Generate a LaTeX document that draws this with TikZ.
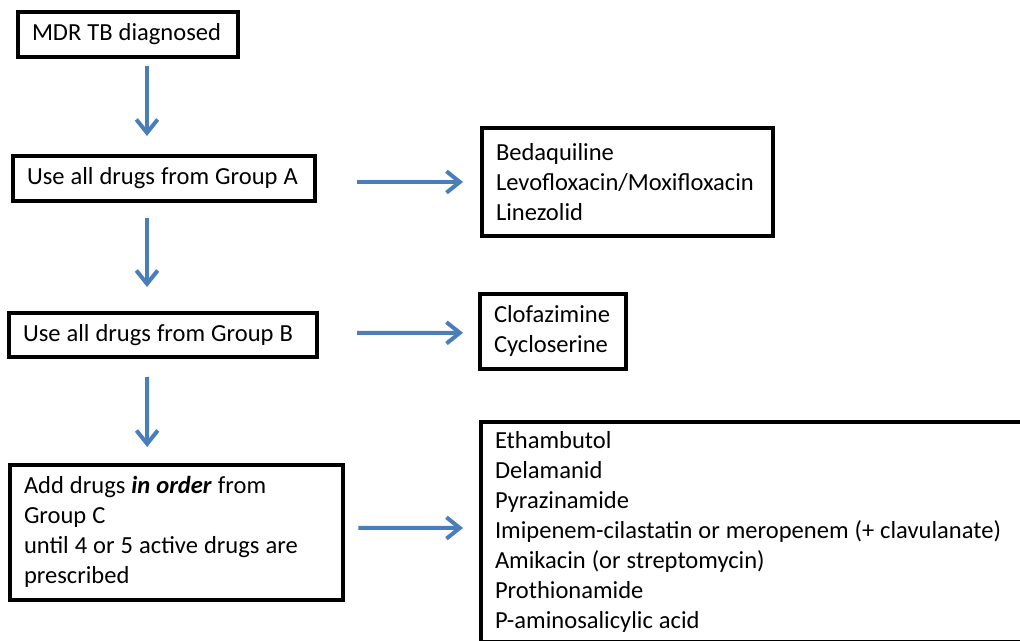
\documentclass[tikz,border=0pt]{standalone}
\usepackage{fontspec}
\setmainfont{Carlito}
\usetikzlibrary{arrows.meta,calc}
\definecolor{arrblue}{RGB}{74,126,187}
\newlength{\myspace}
\setlength{\myspace}{4.5pt}
\tikzset{
  box/.style={draw=black, line width=3pt, anchor=north west, align=left,
    inner xsep=10.5pt, inner ysep=0pt, outer sep=0pt,
    font=\fontsize{18.4}{22.5}\selectfont,
    execute at begin node={\spaceskip=\myspace\relax}},
  arr/.style={draw=arrblue, line width=3pt,
    -{Straight Barb[length=10pt,width=16pt,line width=3pt]}},
}
\begin{document}
\begin{tikzpicture}[x=0.75pt,y=-0.75pt]
\useasboundingbox (0,0) rectangle (1020,641);
% left column
\node[box, text width=144pt, minimum height=33.75pt] (b1) at (18,12) {\mbox{MDR TB diagnosed}};
\node[box, text width=205.5pt, minimum height=33.75pt] (b2) at (13,156) {\mbox{Use all drugs from Group A}};
\node[box, text width=210pt, minimum height=33pt] (b3) at (9,313) {\mbox{Use all drugs from Group B}};
\node[box, text width=229pt, minimum height=101pt] (b4) at (10,465) {\mbox{Add drugs \textbf{\textit{in order}} from}\\Group C\\\mbox{until 4 or 5 active drugs are}\\prescribed};
% right column
\node[box, text width=197pt, minimum height=81pt] (dA) at (482,128) {Bedaquiline\\\mbox{Levofloxacin/Moxifloxacin}\\Linezolid};
\node[box, text width=88.5pt, minimum height=56pt] (dB) at (480,294) {\mbox{Clofazimine}\\\mbox{Cycloserine}};
\node[box, text width=400pt, minimum height=165pt] (dC) at (481,422) {Ethambutol\\Delamanid\\Pyrazinamide\\\mbox{Imipenem-cilastatin or meropenem (+ clavulanate)}\\Amikacin (or streptomycin)\\Prothionamide\\P-aminosalicylic acid};
% vertical arrows
\draw[arr] ([shift={(19,9)}]b1.south) -- ([shift={(-17,-20)}]b2.north);
\draw[arr] ([shift={(-17,17)}]b2.south) -- ([shift={(-16,-26)}]b3.north);
\draw[arr] ([shift={(-16,20)}]b3.south) -- ([shift={(-29.5,-18)}]b4.north);
% horizontal arrows
\draw[arr] ([shift={(42,3.5)}]b2.east) -- ([shift={(-19,0)}]dA.west);
\draw[arr] ([shift={(40,-2)}]b3.east) -- ([shift={(-17,1.5)}]dB.west);
\draw[arr] ([shift={(15,-4.5)}]b4.east) -- ([shift={(-18,-4)}]dC.west);
\end{tikzpicture}
\end{document}
